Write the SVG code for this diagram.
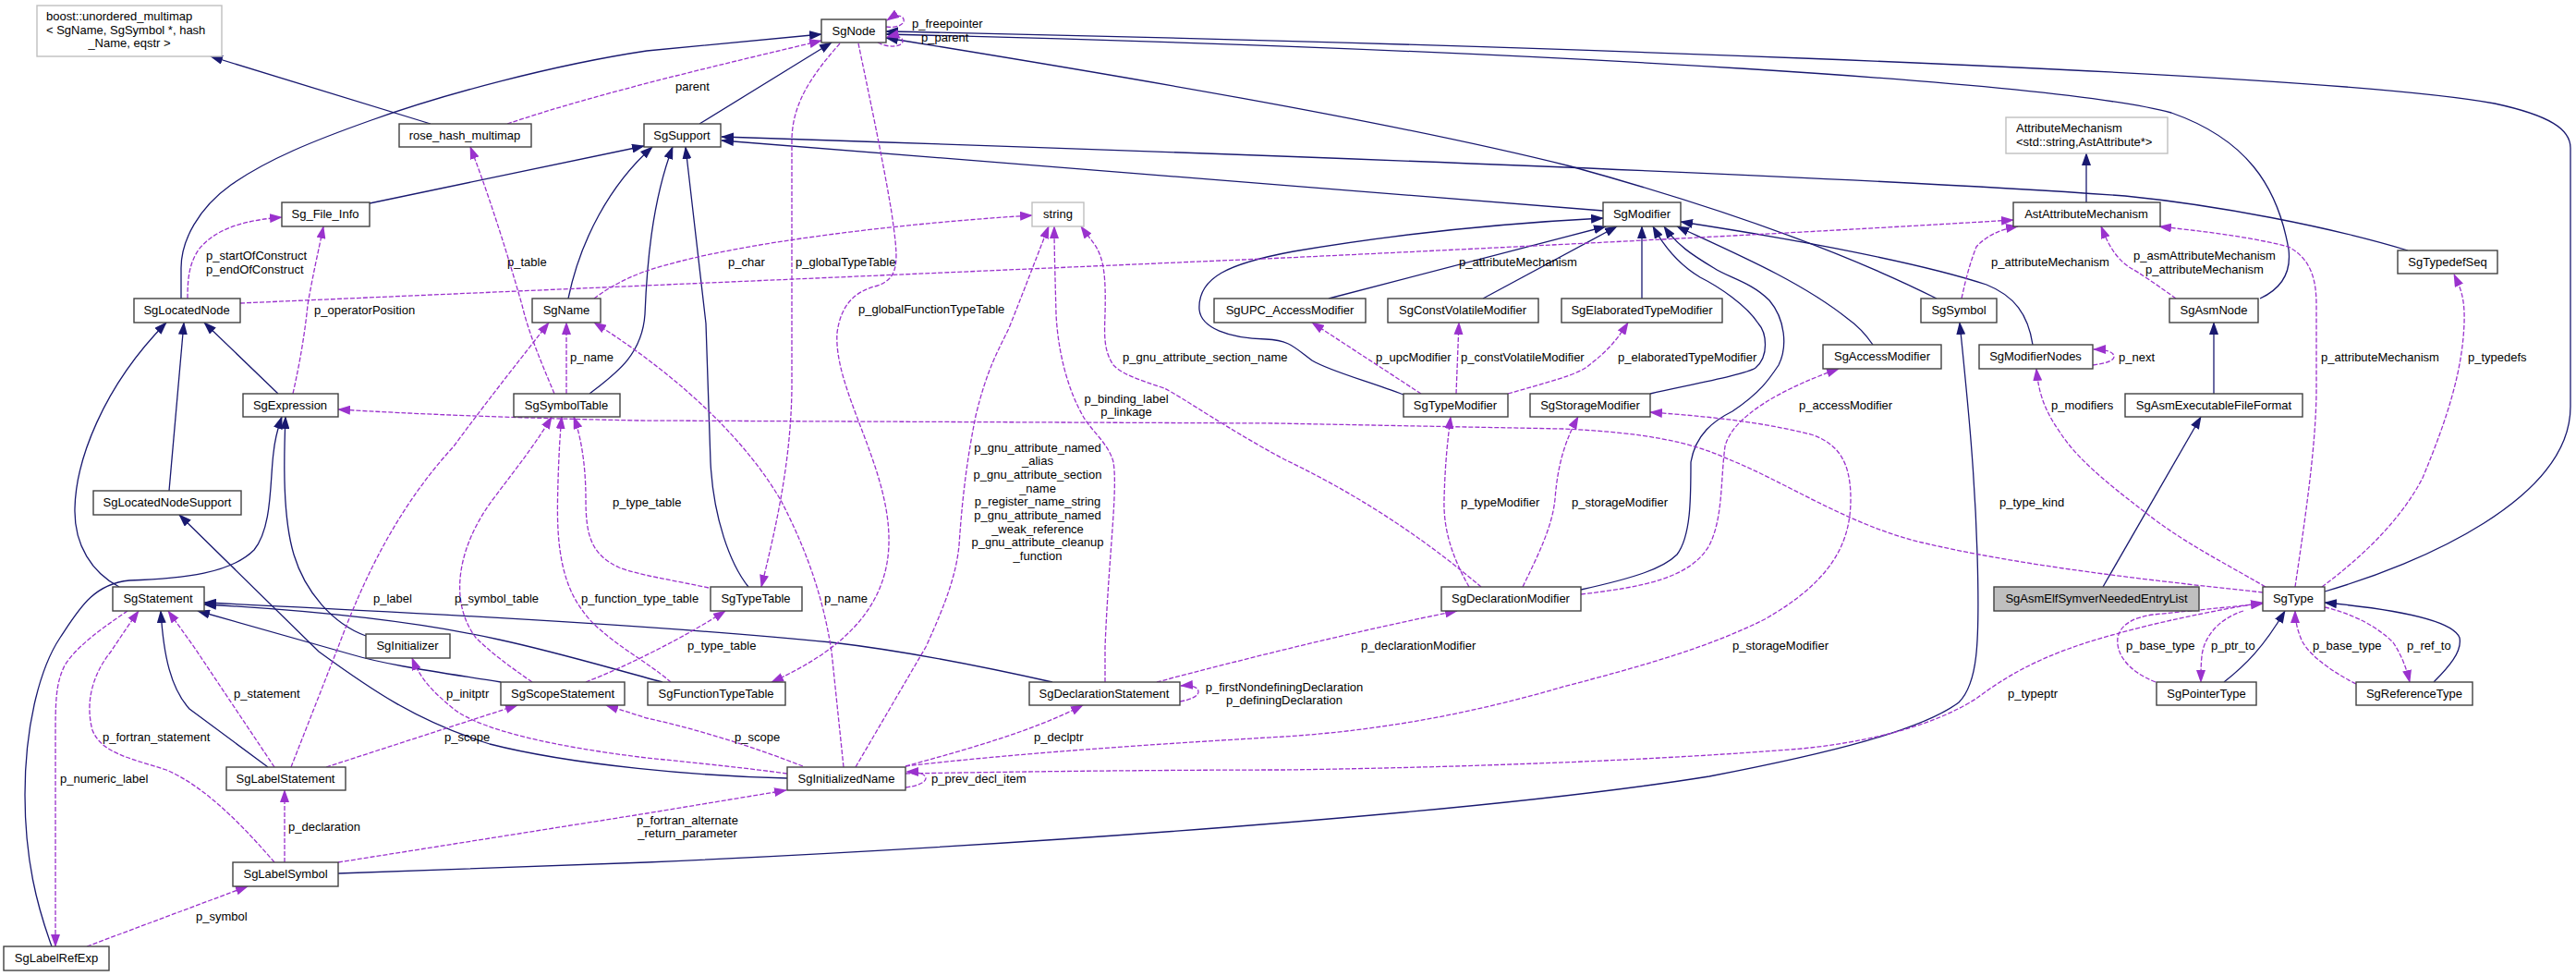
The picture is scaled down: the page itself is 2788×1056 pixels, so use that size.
<svg xmlns="http://www.w3.org/2000/svg" width="2788" height="1056" viewBox="0 0 2788 1056">
<style>
.node rect{fill:#ffffff;stroke:#404040;stroke-width:1.4}
.ext rect{stroke:#bfbfbf}
.cur rect{fill:#bfbfbf}
text{font-family:"Liberation Sans",Arial,sans-serif;font-size:13px;fill:#000000}
.node text{text-anchor:middle}
.node text.l{text-anchor:start}
.inh{fill:none;stroke:#191970;stroke-width:1.3;marker-end:url(#ah)}
.use{fill:none;stroke:#9a32cd;stroke-width:1.3;stroke-dasharray:5,2;marker-end:url(#ap)}
.lbl text{font-size:13px}
.c{text-anchor:middle}
</style>
<defs>
<marker id="ah" markerUnits="userSpaceOnUse" markerWidth="14" markerHeight="10" refX="13" refY="5" viewBox="0 0 14 10" orient="auto"><path d="M0,0 L14,5 L0,10 z" fill="#191970" stroke="none"/></marker>
<marker id="ap" markerUnits="userSpaceOnUse" markerWidth="14" markerHeight="10" refX="13" refY="5" viewBox="0 0 14 10" orient="auto"><path d="M0,0 L14,5 L0,10 z" fill="#9a32cd" stroke="none"/></marker>
</defs>
<rect x="0" y="0" width="2788" height="1056" fill="#ffffff"/>
<g id="edges">
<path class="inh" d="M466,134 L228,61"/>
<path class="inh" d="M757,134 L900,46"/>
<path class="inh" d="M400,220 L697,158"/>
<path class="inh" d="M196,323 L196,290 C196,260 215,225 250,200 C290,172 340,152 402,130 C480,102 600,70 700,55 L889,37"/>
<path class="inh" d="M615,323 C628,260 660,200 706,159"/>
<path class="inh" d="M638,426 C665,405 695,385 698,340 C700,290 705,220 728,159"/>
<path class="inh" d="M810,635 C790,610 772,560 769,500 L764,350 L742,159"/>
<path class="inh" d="M1735,228 L781,152"/>
<path class="inh" d="M2606,271 C2520,245 2400,222 2300,212 C2000,190 1300,165 781,148"/>
<path class="inh" d="M2096,323 C2020,285 1900,235 1700,180 C1500,130 1200,80 959,41"/>
<path class="inh" d="M2446,323 C2470,312 2480,295 2477,270 C2465,200 2430,150 2350,122 C2230,90 1700,55 959,37"/>
<path class="inh" d="M2516,640 C2620,610 2782,540 2782,440 L2782,160 C2782,140 2760,125 2700,112 C2500,75 1500,45 959,34"/>
<path class="inh" d="M2258,219 L2258,166"/>
<path class="inh" d="M2396,426 L2396,349"/>
<path class="inh" d="M2276,635 L2382,451"/>
<path class="inh" d="M366,945 L700,933 C1100,915 1600,880 1850,840 C1980,815 2080,790 2120,760 C2140,740 2143,700 2140,600 C2137,500 2128,420 2121,349"/>
<path class="inh" d="M1438,323 L1738,245"/>
<path class="inh" d="M1605,323 L1750,245"/>
<path class="inh" d="M1777,323 L1777,245"/>
<path class="inh" d="M1519,427 C1480,412 1440,402 1420,390 C1400,375 1395,368 1370,367 C1330,366 1300,355 1298,335 C1296,300 1330,285 1400,272 C1500,255 1620,242 1735,236"/>
<path class="inh" d="M1786,426 C1830,416 1890,405 1900,398 C1915,385 1912,360 1903,350 C1890,330 1860,310 1840,300 C1815,285 1800,265 1789,245"/>
<path class="inh" d="M1711,638 C1770,625 1800,615 1815,600 C1830,580 1830,540 1830,500 C1835,470 1855,455 1875,445 C1905,425 1915,410 1925,395 C1935,375 1932,345 1915,325 C1895,305 1870,300 1855,290 C1830,275 1815,265 1801,245"/>
<path class="inh" d="M2027,373 C2018,360 2010,352 2000,345 C1950,305 1880,275 1815,245"/>
<path class="inh" d="M2200,373 C2195,340 2180,320 2150,308 C2080,285 1950,260 1819,240"/>
<path class="inh" d="M301,426 L221,349"/>
<path class="inh" d="M183,531 L199,349"/>
<path class="inh" d="M129,635 C100,620 80,590 81,550 C82,500 110,420 180,349"/>
<path class="inh" d="M396,688 C360,675 330,640 318,600 C306,560 307,500 309,451"/>
<path class="inh" d="M56,1024 C40,980 27,930 27,860 C27,780 45,720 65,690 C85,660 100,632 140,628 C200,626 250,620 275,595 C295,570 292,520 296,490 C298,470 302,460 305,451"/>
<path class="inh" d="M852,842 C760,840 620,828 530,805 C450,780 400,745 345,705 L194,557"/>
<path class="inh" d="M290,830 L205,767 C185,745 177,710 174,661"/>
<path class="inh" d="M542,738 C480,728 420,720 380,708 L214,661"/>
<path class="inh" d="M1139,738 C1050,718 960,702 900,695 C750,680 500,665 221,652"/>
<path class="inh" d="M717,738 C650,720 600,705 540,692 C450,672 330,660 221,654"/>
<path class="inh" d="M2407,738 C2430,720 2450,700 2473,661"/>
<path class="inh" d="M2634,738 C2650,722 2665,705 2662,690 C2655,672 2600,660 2516,652"/>

<path class="use" d="M549,134 C650,100 780,70 889,44"/>
<path class="use" d="M959,29 C972,31 982,25 977,19 C973,15 966,18 960,22"/>
<path class="use" d="M950,46 C963,53 978,50 977,44 C976,39 968,38 960,40"/>
<path class="use" d="M203,323 C203,300 205,285 215,270 C235,245 270,238 305,235"/>
<path class="use" d="M317,426 C325,390 330,360 333,330 C338,300 345,270 350,245"/>
<path class="use" d="M600,426 C585,390 572,360 565,330 C545,260 525,200 509,159"/>
<path class="use" d="M260,328 L1390,279 Q1900,255 2179,238"/>
<path class="use" d="M643,323 C660,310 680,300 700,293 C800,260 1000,240 1117,233"/>
<path class="use" d="M909,47 C880,80 858,110 857,150 L857,420 C856,500 840,570 824,635"/>
<path class="use" d="M929,47 C940,100 955,170 965,230 C972,280 975,300 950,309 C925,315 910,330 906,360 C902,420 960,500 962,580 C964,650 920,700 835,738"/>
<path class="use" d="M913,830 L900,705 C890,640 870,590 846,543 C810,480 740,410 643,349"/>
<path class="use" d="M613,426 L613,349"/>
<path class="use" d="M315,830 L366,700 C385,650 420,560 491,483 C530,430 570,380 594,349"/>
<path class="use" d="M576,738 C550,720 530,705 515,690 C485,650 495,590 536,537 C560,505 580,480 597,451"/>
<path class="use" d="M726,738 C700,715 650,690 630,660 C600,620 603,560 604,520 C605,490 606,470 608,451"/>
<path class="use" d="M767,636 C730,628 690,622 670,614 C640,600 634,580 634,540 C634,500 628,470 621,451"/>
<path class="use" d="M634,738 C680,720 740,690 785,661"/>
<path class="use" d="M2449,641 C2350,630 2200,615 2080,587 C2000,568 1930,520 1871,497 C1830,478 1780,468 1692,464 L1380,458 L690,455 C550,452 450,448 366,443"/>
<path class="use" d="M1590,635 C1570,600 1562,570 1563,540 C1564,500 1567,475 1570,451"/>
<path class="use" d="M1648,635 C1665,600 1680,570 1683,540 C1686,500 1695,475 1708,451"/>
<path class="use" d="M980,829 C1100,815 1250,805 1390,797 C1500,790 1600,770 1692,743 C1780,720 1850,700 1910,670 C1980,630 2003,590 2003,540 C2003,500 1990,480 1960,470 C1900,455 1840,450 1786,446"/>
<path class="use" d="M1711,643 C1780,635 1830,625 1850,590 C1865,560 1862,520 1867,483 C1875,450 1930,420 1990,399"/>
<path class="use" d="M1538,426 L1420,349"/>
<path class="use" d="M1576,426 L1579,349"/>
<path class="use" d="M1632,426 C1670,415 1710,405 1720,395 C1740,380 1752,365 1762,349"/>
<path class="use" d="M1252,738 C1350,712 1480,680 1577,661"/>
<path class="use" d="M1277,759 C1290,757 1298,752 1297,748 C1296,743 1290,741 1278,742"/>
<path class="use" d="M980,829 C1050,810 1120,790 1172,763"/>
<path class="use" d="M980,852 C995,850 1002,846 1002,842 C1002,838 995,835 981,835"/>
<path class="use" d="M366,933 L700,880 L851,855"/>
<path class="use" d="M869,829 C820,810 760,790 700,777 L656,763"/>
<path class="use" d="M353,830 L560,763"/>
<path class="use" d="M852,837 C800,830 750,825 700,820 C600,808 520,790 491,767 C470,750 455,735 446,712"/>
<path class="use" d="M297,830 L210,700 L182,661"/>
<path class="use" d="M297,933 C260,890 220,850 180,833 C140,820 110,815 100,790 C92,760 100,730 120,705 C130,690 140,675 150,661"/>
<path class="use" d="M138,661 C110,680 82,700 70,720 C60,740 60,760 60,800 L60,1024"/>
<path class="use" d="M308,933 L308,855"/>
<path class="use" d="M94,1024 L268,959"/>
<path class="use" d="M2452,635 C2400,605 2370,590 2333,563 C2290,530 2250,500 2229,467 C2210,440 2206,420 2204,399"/>
<path class="use" d="M2265,395 C2280,393 2288,390 2288,386 C2288,381 2280,378 2266,378"/>
<path class="use" d="M2123,323 C2128,300 2132,285 2139,267 C2150,255 2165,248 2184,245"/>
<path class="use" d="M2355,323 C2330,305 2315,295 2306,290 C2290,280 2282,265 2274,245"/>
<path class="use" d="M2484,635 C2495,560 2507,480 2507,420 L2507,330 C2507,300 2500,280 2477,267 C2430,255 2380,250 2337,245"/>
<path class="use" d="M2513,635 C2560,600 2600,560 2622,517 C2650,450 2665,400 2667,350 C2668,320 2662,310 2656,297"/>
<path class="use" d="M980,837 C1150,834 1300,833 1390,833 C1600,830 1800,822 1950,810 C2050,800 2110,775 2140,755 C2180,725 2215,710 2250,698 C2320,675 2400,660 2449,652"/>
<path class="use" d="M2333,738 C2300,725 2290,705 2292,690 C2295,675 2310,668 2330,665 C2380,660 2420,656 2449,653"/>
<path class="use" d="M2428,661 C2400,670 2385,690 2383,710 C2382,720 2382,728 2382,738"/>
<path class="use" d="M2550,740 C2520,725 2495,705 2490,690 C2486,680 2484,670 2484,661"/>
<path class="use" d="M2516,657 C2550,665 2575,680 2590,695 C2600,710 2605,725 2608,738"/>
<path class="use" d="M926,830 L1002,700 C1025,650 1035,620 1038,590 C1042,530 1048,490 1056,450 C1068,400 1080,380 1092,355 C1110,310 1125,270 1135,245"/>
<path class="use" d="M1196,738 L1196,700 C1200,600 1210,530 1205,500 C1200,480 1180,465 1172,450 C1155,420 1145,380 1143,340 C1142,300 1141,270 1141,245"/>
<path class="use" d="M1603,635 C1550,590 1480,540 1390,497 C1330,465 1280,430 1260,420 C1230,410 1215,405 1205,395 C1195,380 1195,365 1196,340 C1197,300 1195,280 1185,265 C1180,258 1175,252 1170,245"/>
</g>
<g id="labels" class="lbl">
<text x="731" y="98">parent</text>
<text x="987" y="30">p_freepointer</text>
<text x="997" y="45">p_parent</text>
<text x="223" y="281">p_startOfConstruct</text>
<text x="223" y="296">p_endOfConstruct</text>
<text x="549" y="288">p_table</text>
<text x="340" y="340">p_operatorPosition</text>
<text x="788" y="288">p_char</text>
<text x="861" y="288">p_globalTypeTable</text>
<text x="929" y="339">p_globalFunctionTypeTable</text>
<text x="1579" y="288">p_attributeMechanism</text>
<text x="2155" y="288">p_attributeMechanism</text>
<text class="c" x="2386" y="281">p_asmAttributeMechanism</text>
<text class="c" x="2386" y="296">p_attributeMechanism</text>
<text x="617" y="391">p_name</text>
<text x="1489" y="391">p_upcModifier</text>
<text x="1581" y="391">p_constVolatileModifier</text>
<text x="1751" y="391">p_elaboratedTypeModifier</text>
<text x="1215" y="391">p_gnu_attribute_section_name</text>
<text x="2293" y="391">p_next</text>
<text x="2512" y="391">p_attributeMechanism</text>
<text x="2671" y="391">p_typedefs</text>
<text class="c" x="1219" y="436">p_binding_label</text>
<text class="c" x="1219" y="450">p_linkage</text>
<text x="1947" y="443">p_accessModifier</text>
<text x="2220" y="443">p_modifiers</text>
<text class="c" x="1123" y="489">p_gnu_attribute_named</text>
<text class="c" x="1123" y="503">_alias</text>
<text class="c" x="1123" y="518">p_gnu_attribute_section</text>
<text class="c" x="1123" y="533">_name</text>
<text class="c" x="1123" y="547">p_register_name_string</text>
<text class="c" x="1123" y="562">p_gnu_attribute_named</text>
<text class="c" x="1123" y="577">_weak_reference</text>
<text class="c" x="1123" y="591">p_gnu_attribute_cleanup</text>
<text class="c" x="1123" y="606">_function</text>
<text x="663" y="548">p_type_table</text>
<text x="1581" y="548">p_typeModifier</text>
<text x="1701" y="548">p_storageModifier</text>
<text x="2164" y="548">p_type_kind</text>
<text x="404" y="652">p_label</text>
<text x="492" y="652">p_symbol_table</text>
<text x="629" y="652">p_function_type_table</text>
<text x="892" y="652">p_name</text>
<text x="744" y="703">p_type_table</text>
<text x="1473" y="703">p_declarationModifier</text>
<text x="1875" y="703">p_storageModifier</text>
<text x="2301" y="703">p_base_type</text>
<text x="2393" y="703">p_ptr_to</text>
<text x="2503" y="703">p_base_type</text>
<text x="2605" y="703">p_ref_to</text>
<text class="c" x="1390" y="748">p_firstNondefiningDeclaration</text>
<text class="c" x="1390" y="762">p_definingDeclaration</text>
<text x="253" y="755">p_statement</text>
<text x="483" y="755">p_initptr</text>
<text x="2173" y="755">p_typeptr</text>
<text x="111" y="802">p_fortran_statement</text>
<text x="481" y="802">p_scope</text>
<text x="795" y="802">p_scope</text>
<text x="1119" y="802">p_declptr</text>
<text x="65" y="847">p_numeric_label</text>
<text x="1008" y="847">p_prev_decl_item</text>
<text class="c" x="744" y="892">p_fortran_alternate</text>
<text class="c" x="744" y="906">_return_parameter</text>
<text x="312" y="899">p_declaration</text>
<text x="212" y="996">p_symbol</text>
</g>
<g id="n_boost" class="node ext"><rect x="40" y="6" width="200" height="55"/><text class="l" x="50" y="22">boost::unordered_multimap</text><text class="l" x="50" y="37">&lt; SgName, SgSymbol *, hash</text><text x="140" y="51">_Name, eqstr &gt;</text></g>
<g id="n_SgNode" class="node"><rect x="889" y="21" width="70" height="25"/><text x="924" y="38">SgNode</text></g>
<g id="n_rose_hash_multimap" class="node"><rect x="432" y="134" width="143" height="25"/><text x="503" y="151">rose_hash_multimap</text></g>
<g id="n_SgSupport" class="node"><rect x="697" y="134" width="83" height="25"/><text x="738" y="151">SgSupport</text></g>
<g id="n_Sg_File_Info" class="node"><rect x="305" y="219" width="95" height="26"/><text x="352" y="236">Sg_File_Info</text></g>
<g id="n_string" class="node ext"><rect x="1117" y="219" width="56" height="26"/><text x="1145" y="236">string</text></g>
<g id="n_SgModifier" class="node"><rect x="1735" y="219" width="84" height="26"/><text x="1777" y="236">SgModifier</text></g>
<g id="n_AttributeMechanism" class="node ext"><rect x="2171" y="127" width="175" height="39"/><text class="l" x="2182" y="143">AttributeMechanism</text><text class="l" x="2182" y="158">&lt;std::string,AstAttribute*&gt;</text></g>
<g id="n_AstAttributeMechanism" class="node"><rect x="2179" y="219" width="159" height="26"/><text x="2258" y="236">AstAttributeMechanism</text></g>
<g id="n_SgTypedefSeq" class="node"><rect x="2595" y="271" width="108" height="25"/><text x="2649" y="288">SgTypedefSeq</text></g>
<g id="n_SgLocatedNode" class="node"><rect x="145" y="323" width="115" height="26"/><text x="202" y="340">SgLocatedNode</text></g>
<g id="n_SgName" class="node"><rect x="576" y="323" width="74" height="26"/><text x="613" y="340">SgName</text></g>
<g id="n_SgUPC_AccessModifier" class="node"><rect x="1314" y="323" width="164" height="26"/><text x="1396" y="340">SgUPC_AccessModifier</text></g>
<g id="n_SgConstVolatileModifier" class="node"><rect x="1502" y="323" width="163" height="26"/><text x="1583" y="340">SgConstVolatileModifier</text></g>
<g id="n_SgElaboratedTypeModifier" class="node"><rect x="1690" y="323" width="174" height="26"/><text x="1777" y="340">SgElaboratedTypeModifier</text></g>
<g id="n_SgSymbol" class="node"><rect x="2079" y="323" width="82" height="26"/><text x="2120" y="340">SgSymbol</text></g>
<g id="n_SgAsmNode" class="node"><rect x="2348" y="323" width="96" height="26"/><text x="2396" y="340">SgAsmNode</text></g>
<g id="n_SgAccessModifier" class="node"><rect x="1973" y="373" width="128" height="26"/><text x="2037" y="390">SgAccessModifier</text></g>
<g id="n_SgModifierNodes" class="node"><rect x="2142" y="373" width="123" height="26"/><text x="2203" y="390">SgModifierNodes</text></g>
<g id="n_SgExpression" class="node"><rect x="263" y="426" width="103" height="25"/><text x="314" y="443">SgExpression</text></g>
<g id="n_SgSymbolTable" class="node"><rect x="556" y="426" width="115" height="25"/><text x="613" y="443">SgSymbolTable</text></g>
<g id="n_SgTypeModifier" class="node"><rect x="1519" y="426" width="113" height="25"/><text x="1575" y="443">SgTypeModifier</text></g>
<g id="n_SgStorageModifier" class="node"><rect x="1656" y="426" width="130" height="25"/><text x="1721" y="443">SgStorageModifier</text></g>
<g id="n_SgAsmExecutableFileFormat" class="node"><rect x="2300" y="426" width="192" height="25"/><text x="2396" y="443">SgAsmExecutableFileFormat</text></g>
<g id="n_SgLocatedNodeSupport" class="node"><rect x="101" y="531" width="160" height="26"/><text x="181" y="548">SgLocatedNodeSupport</text></g>
<g id="n_SgStatement" class="node"><rect x="122" y="635" width="99" height="26"/><text x="171" y="652">SgStatement</text></g>
<g id="n_SgTypeTable" class="node"><rect x="769" y="635" width="99" height="26"/><text x="818" y="652">SgTypeTable</text></g>
<g id="n_SgDeclarationModifier" class="node"><rect x="1560" y="635" width="151" height="26"/><text x="1635" y="652">SgDeclarationModifier</text></g>
<g id="n_SgAsmElfSymverNeededEntryList" class="node cur"><rect x="2158" y="635" width="222" height="26"/><text x="2269" y="652">SgAsmElfSymverNeededEntryList</text></g>
<g id="n_SgType" class="node"><rect x="2449" y="635" width="67" height="26"/><text x="2482" y="652">SgType</text></g>
<g id="n_SgInitializer" class="node"><rect x="396" y="686" width="91" height="26"/><text x="441" y="703">SgInitializer</text></g>
<g id="n_SgScopeStatement" class="node"><rect x="542" y="738" width="134" height="25"/><text x="609" y="755">SgScopeStatement</text></g>
<g id="n_SgFunctionTypeTable" class="node"><rect x="701" y="738" width="149" height="25"/><text x="775" y="755">SgFunctionTypeTable</text></g>
<g id="n_SgDeclarationStatement" class="node"><rect x="1114" y="738" width="163" height="25"/><text x="1195" y="755">SgDeclarationStatement</text></g>
<g id="n_SgPointerType" class="node"><rect x="2334" y="738" width="108" height="25"/><text x="2388" y="755">SgPointerType</text></g>
<g id="n_SgReferenceType" class="node"><rect x="2550" y="738" width="126" height="25"/><text x="2613" y="755">SgReferenceType</text></g>
<g id="n_SgLabelStatement" class="node"><rect x="245" y="830" width="129" height="25"/><text x="309" y="847">SgLabelStatement</text></g>
<g id="n_SgInitializedName" class="node"><rect x="852" y="830" width="128" height="25"/><text x="916" y="847">SgInitializedName</text></g>
<g id="n_SgLabelSymbol" class="node"><rect x="252" y="933" width="114" height="26"/><text x="309" y="950">SgLabelSymbol</text></g>
<g id="n_SgLabelRefExp" class="node"><rect x="4" y="1024" width="114" height="26"/><text x="61" y="1041">SgLabelRefExp</text></g>
</svg>
